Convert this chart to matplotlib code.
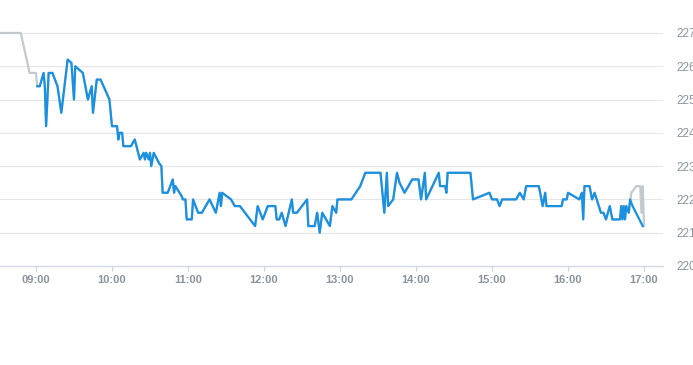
import matplotlib.pyplot as plt

# regular session (blue)
times = ["09:01", "09:03", "09:06", "09:07", "09:08", "09:10", "09:13", "09:17", "09:20", "09:25",
         "09:28", "09:30", "09:31", "09:37", "09:41", "09:44", "09:45", "09:48", "09:51", "09:58",
         "10:00", "10:04", "10:05", "10:06", "10:08", "10:09", "10:15", "10:18", "10:22", "10:25",
         "10:26", "10:27", "10:29", "10:30", "10:31", "10:33", "10:37", "10:39", "10:40", "10:44",
         "10:48", "10:49", "10:50", "10:55", "10:56", "10:58", "10:59", "11:03", "11:04", "11:08",
         "11:11", "11:17", "11:22", "11:25", "11:26", "11:27", "11:34", "11:37", "11:41", "11:45",
         "11:49", "11:53", "11:55", "11:59", "12:03", "12:09", "12:10", "12:12", "12:14", "12:17",
         "12:22", "12:23", "12:26", "12:34", "12:35", "12:40", "12:42", "12:44", "12:46", "12:52",
         "12:54", "12:57", "12:58", "13:09", "13:16", "13:18", "13:20", "13:32", "13:35", "13:37",
         "13:38", "13:40", "13:42", "13:45", "13:47", "13:51", "13:57", "14:02", "14:04", "14:07",
         "14:08", "14:18", "14:19", "14:23", "14:24", "14:25", "14:43", "14:45", "14:58", "15:00",
         "15:04", "15:06", "15:08", "15:19", "15:22", "15:25", "15:27", "15:37", "15:40", "15:42",
         "15:43", "15:55", "15:56", "15:59", "16:00", "16:09", "16:11", "16:12", "16:13", "16:17",
         "16:19", "16:21", "16:26", "16:28", "16:30", "16:33", "16:35", "16:41", "16:42", "16:43",
         "16:44", "16:45", "16:46", "16:48", "16:49", "16:51", "16:59"]
prices = [225.4, 225.4, 225.8, 225.4, 224.2, 225.8, 225.8, 225.4, 224.6, 226.2,
          226.1, 225.0, 226.0, 225.8, 225.0, 225.4, 224.6, 225.6, 225.6, 225.0,
          224.2, 224.2, 223.8, 224.0, 224.0, 223.6, 223.6, 223.8, 223.2, 223.4,
          223.2, 223.4, 223.2, 223.4, 223.0, 223.4, 223.1, 223.0, 222.2, 222.2,
          222.6, 222.2, 222.4, 222.1, 222.0, 222.0, 221.4, 221.4, 222.0, 221.6,
          221.6, 222.0, 221.6, 222.2, 221.8, 222.2, 222.0, 221.8, 221.8, 221.6,
          221.4, 221.2, 221.8, 221.4, 221.8, 221.8, 221.4, 221.4, 221.6, 221.2,
          222.0, 221.6, 221.6, 222.0, 221.2, 221.2, 221.6, 221.0, 221.6, 221.2,
          221.8, 221.6, 222.0, 222.0, 222.4, 222.6, 222.8, 222.8, 221.6, 222.8,
          221.8, 221.9, 222.0, 222.8, 222.5, 222.2, 222.6, 222.6, 222.0, 222.8,
          222.0, 222.8, 222.4, 222.4, 222.2, 222.8, 222.8, 222.0, 222.2, 222.0,
          222.0, 221.8, 222.0, 222.0, 222.2, 222.0, 222.4, 222.4, 221.8, 222.2,
          221.8, 221.8, 222.0, 222.0, 222.2, 222.0, 222.2, 221.4, 222.4, 222.4,
          222.0, 222.2, 221.6, 221.6, 221.4, 221.8, 221.4, 221.4, 221.8, 221.4,
          221.8, 221.4, 221.8, 221.6, 222.0, 221.8, 221.2]

# extended hours (grey), drawn under the blue line
pre_times = ["08:30", "08:48", "08:55", "09:00"]
pre_prices = [227.0, 227.0, 225.8, 225.8]
post_times = ["16:50", "16:54", "16:57", "16:58", "16:59", "17:00"]
post_prices = [222.2, 222.4, 222.4, 221.6, 222.4, 221.2]

hour_labels = ["09:00", "10:00", "11:00", "12:00", "13:00", "14:00", "15:00", "16:00", "17:00"]
price_ticks = [220, 221, 222, 223, 224, 225, 226, 227]


def to_min(t):
    h, m = t.split(":")
    return int(h) * 60 + int(m)


x = [to_min(t) for t in times]
gx = [to_min(t) for t in pre_times] + x[:-3] + [to_min(t) for t in post_times]
gy = pre_prices + prices[:-3] + post_prices

plt.rcParams['font.family'] = ['Liberation Sans', 'DejaVu Sans']
fig = plt.figure(figsize=(6.93, 3.65), dpi=100)
ax = fig.add_axes([0, 99 / 365, 663 / 693, 246 / 365])

ax.plot(gx, gy, color="#c2cad0", lw=1.6, zorder=2, solid_joinstyle="round")
ax.plot(x, prices, color="#1a90e0", lw=1.6, zorder=3, solid_joinstyle="round")

ax.set_xlim(511.6, 1035)
ax.set_ylim(220, 227.39)

ax.set_xticks([to_min(t) for t in hour_labels])
ax.set_xticklabels(hour_labels, fontsize=8, fontweight="bold", color="#8a949e")
ax.set_yticks(price_ticks)
ax.set_yticklabels([str(v) for v in price_ticks], fontsize=8.5, color="#8a949e")
ax.yaxis.tick_right()
ax.tick_params(axis="y", length=0, pad=9.5)
ax.tick_params(axis="x", length=3.5, width=0.8, color="#ccd6eb", pad=3)

ax.grid(axis="y", color="#e6e6e6", lw=0.8)
ax.set_axisbelow(True)
for s in ["top", "left", "right"]:
    ax.spines[s].set_visible(False)
ax.spines["bottom"].set_color("#ccd6eb")
ax.spines["bottom"].set_linewidth(0.8)

fig.savefig("out.png", dpi=100)
